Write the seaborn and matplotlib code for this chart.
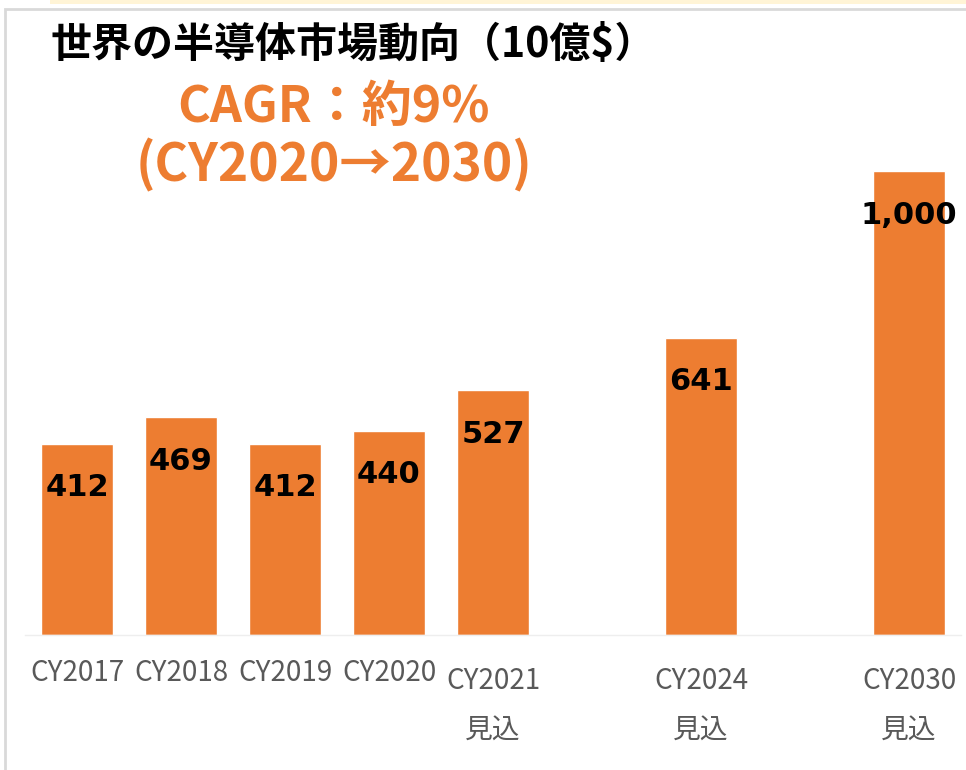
import numpy as np
import pandas as pd
import seaborn as sns
import matplotlib.pyplot as plt
from matplotlib.patches import Rectangle

years = ["CY2017", "CY2018", "CY2019", "CY2020", "CY2021", "CY2024", "CY2030"]
notes = ["", "", "", "", "見込", "見込", "見込"]
values = [412, 469, 412, 440, 527, 641, 1000]
slots = [0, 1, 2, 3, 4, 6, 8]   # empty slots for the gaps in years

sns.set_theme(style="white")
plt.rcParams['font.family'] = ['Noto Sans CJK JP', 'DejaVu Sans']

orange = "#ED7D31"
grey = "#595959"

fig = plt.figure(figsize=(9.66, 7.70), dpi=100)
ax = fig.add_axes([25 / 966, 1 - 635 / 770, 936 / 966, 1100 * 0.464 / 770])

df = pd.DataFrame({"slot": slots, "value": values})
sns.barplot(data=df, x="slot", y="value", order=list(range(9)), color=orange,
            saturation=1, width=0.70, ax=ax)
ax.set_xlim(-0.5, 8.5)
ax.set_ylim(0, 1100)

for s, v in zip(slots, values):
    ax.text(s, v - 95, f"{v:,}", ha="center", va="center", fontsize=22,
            fontweight="bold", color="black", family="DejaVu Sans")

ax.set_xticks(slots)
ax.set_xticklabels([])
ax.tick_params(axis="x", length=0)
ax.set_yticks([])
ax.set_xlabel("")
ax.set_ylabel("")
for sp in ["top", "right", "left"]:
    ax.spines[sp].set_visible(False)
ax.spines["bottom"].set_color("#EEEEEE")
ax.spines["bottom"].set_linewidth(1)
ax.patch.set_alpha(0)

for s, y, n in zip(slots, years, notes):
    dy = 0 if n == "" else 8
    ax.annotate(y, (s, 0), xytext=(0, -23 - dy), textcoords="offset pixels",
                ha="center", va="top", fontsize=20, color=grey)
    if n:
        ax.annotate(n, (s, 0), xytext=(0, -81), textcoords="offset pixels",
                    ha="center", va="top", fontsize=20, color=grey)

fig.text(50 / 966, 1 - 45 / 770, "世界の半導体市場動向（10億$）", ha="left", va="center",
         fontsize=29.5, fontweight="bold", color="black")
fig.text(334 / 966, 1 - 108 / 770, "CAGR：約9%", ha="center", va="center",
         fontsize=36, fontweight="bold", color=orange)
fig.text(334 / 966, 1 - 165 / 770, "(CY2020→2030)", ha="center", va="center",
         fontsize=37, fontweight="bold", color=orange)

# slide frame
fig.patches.append(Rectangle((5 / 966, -0.01), 1.1, 1 - 9 / 770 + 0.01,
                             transform=fig.transFigure, fill=False,
                             edgecolor="#D9D9D9", linewidth=2, zorder=0))
fig.patches.append(Rectangle((50 / 966, 1 - 4 / 770), 1.0, 0.02,
                             transform=fig.transFigure, facecolor="#FFF4D6",
                             edgecolor="none", zorder=0))

fig.savefig("out.png", dpi=100)
